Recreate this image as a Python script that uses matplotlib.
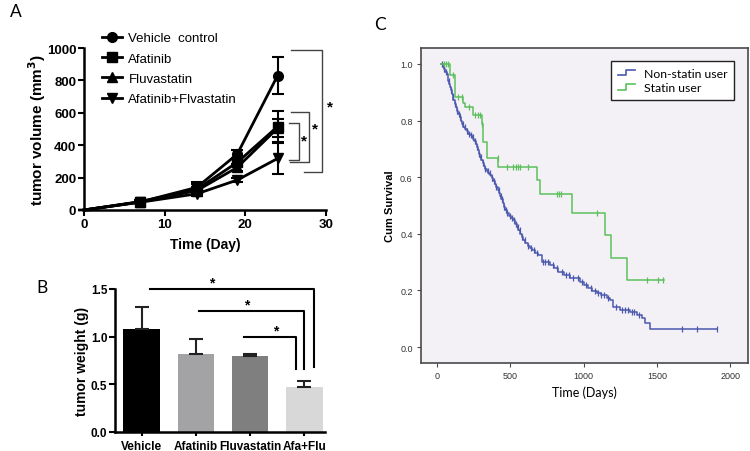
import numpy as np
import matplotlib
matplotlib.use("Agg")
import matplotlib.pyplot as plt
from matplotlib.lines import Line2D
from matplotlib.legend_handler import HandlerBase

# ---------------- Panel A data ----------------
days = [0, 7, 14, 19, 24]
vehicle_mean = [0, 50, 140, 345, 830]
vehicle_err = [0, 8, 35, 25, 112]
afatinib_mean = [0, 52, 128, 294, 515]
afatinib_err = [0, 8, 30, 25, 95]
fluva_mean = [0, 50, 120, 263, 505]
fluva_err = [0, 8, 25, 22, 55]
combo_mean = [0, 48, 100, 185, 318]
combo_err = [0, 6, 15, 15, 93]
a_series = ["Vehicle  control", "Afatinib", "Fluvastatin", "Afatinib+Flvastatin"]

# ---------------- Panel B data ----------------
b_groups = ["Vehicle", "Afatinib", "Fluvastatin", "Afa+Flu"]
b_weight = [1.08, 0.82, 0.80, 0.47]
b_err = [0.23, 0.16, 0.015, 0.07]
b_colors = ["#000000", "#a3a3a6", "#7f7f7f", "#d8d8d8"]

# ---------------- Panel C data ----------------
ns_time = [27, 40, 48, 57, 66, 72, 78, 84, 89, 95, 101, 107, 112, 120, 129, 138, 146,
           154, 163, 172, 180, 192, 203, 214, 226, 237, 248, 256, 263, 271, 279, 286,
           294, 303, 312, 320, 328, 340, 351, 362, 373, 385, 396, 405, 413, 422, 430,
           440, 450, 458, 467, 476, 490, 505, 521, 532, 546, 555, 567, 578, 589, 601,
           618, 635, 646, 669, 692, 715, 771, 800, 828, 868, 908, 976, 1005, 1033, 1060,
           1090, 1120, 1158, 1181, 1204, 1249, 1317, 1363, 1397, 1420, 1454, 1909]
ns_surv = [1.0, 0.99, 0.982, 0.973, 0.965, 0.952, 0.94, 0.929, 0.918, 0.906, 0.894, 0.882,
           0.871, 0.859, 0.847, 0.835, 0.824, 0.812, 0.80, 0.788, 0.777, 0.77, 0.762, 0.754,
           0.748, 0.742, 0.736, 0.726, 0.716, 0.707, 0.695, 0.683, 0.671, 0.66, 0.65, 0.64,
           0.630, 0.622, 0.614, 0.607, 0.597, 0.587, 0.577, 0.566, 0.556, 0.545, 0.535,
           0.522, 0.508, 0.496, 0.484, 0.472, 0.464, 0.456, 0.448, 0.436, 0.425, 0.413,
           0.401, 0.39, 0.378, 0.368, 0.358, 0.349, 0.343, 0.333, 0.325, 0.302, 0.290,
           0.278, 0.266, 0.254, 0.243, 0.231, 0.22, 0.208, 0.199, 0.190, 0.183, 0.175,
           0.165, 0.143, 0.131, 0.125, 0.114, 0.102, 0.085, 0.064, 0.064]
ns_censor = [35, 50, 62, 80, 95, 110, 125, 140, 150, 160, 175, 190, 205, 220, 230, 245,
             260, 275, 290, 300, 315, 330, 345, 360, 375, 390, 405, 420, 435, 445, 460,
             470, 480, 495, 510, 525, 540, 550, 565, 580, 600, 620, 640, 660, 680, 720,
             740, 760, 790, 820, 850, 880, 900, 930, 960, 990, 1020, 1050, 1080, 1100,
             1120, 1140, 1170, 1220, 1260, 1280, 1300, 1330, 1345, 1380, 1670, 1772, 1909]

st_time = [27, 89, 123, 180, 191, 243, 305, 317, 344, 419, 685, 703, 919, 1147, 1186, 1295, 1550]
st_surv = [1.0, 0.959, 0.883, 0.862, 0.847, 0.818, 0.786, 0.724, 0.669, 0.636, 0.589,
           0.540, 0.472, 0.395, 0.316, 0.237, 0.237]
st_censor = [45, 60, 77, 110, 146, 169, 216, 259, 282, 294, 310, 415, 476, 521, 537, 551,
             567, 623, 818, 830, 845, 1094, 1431, 1511, 1545]

c_labels = ["Non-statin user", "Statin user"]
c_colors = ["#4a58ad", "#5cc05c"]

# ---------------- Figure ----------------
plt.rcParams['font.family'] = ['Liberation Sans', 'DejaVu Sans']
fig = plt.figure(figsize=(7.5, 4.52), dpi=100)

def px_axes(l, t, r, b):
    W, H = 750, 452
    return fig.add_axes([l / W, 1 - b / H, (r - l) / W, (b - t) / H])

# ===== Panel A =====
axA = px_axes(84, 49, 326, 211)
markers = ['o', 's', '^', 'v']
means = [vehicle_mean, afatinib_mean, fluva_mean, combo_mean]
errs = [vehicle_err, afatinib_err, fluva_err, combo_err]
handles = []
for m, mu, er, lab in zip(markers, means, errs, a_series):
    axA.errorbar(days, mu, yerr=er, color='black', lw=2, capsize=4, capthick=1.5,
                 elinewidth=1.5, marker=m, markersize=7, markevery=[1, 2, 3, 4],
                 clip_on=False, zorder=3)
    handles.append(Line2D([], [], color='black', lw=2, marker=m, markersize=7, label=lab))
axA.set_xlim(0, 30)
axA.set_ylim(0, 1000)
axA.set_xticks([0, 10, 20, 30])
axA.set_yticks([0, 200, 400, 600, 800, 1000])
for s in ['top', 'right']:
    axA.spines[s].set_visible(False)
for s in ['left', 'bottom']:
    axA.spines[s].set_linewidth(1.8)
axA.tick_params(width=1.5, length=4, labelsize=9.5, pad=1.5)
for lab in axA.get_xticklabels() + axA.get_yticklabels():
    lab.set_fontweight('bold')
axA.set_ylabel("tumor volume (mm$^\\mathbf{3}$)", fontsize=11, fontweight='bold')
axA.yaxis.set_label_coords(-0.15, 0.5)
axA.set_xlabel("Time (Day)", fontsize=10, fontweight='bold', labelpad=5)
fig.legend(handles=handles, loc='upper left', bbox_to_anchor=(102 / 750, 1 - 33 / 452),
           frameon=False, fontsize=9.5, handlelength=1.5, handletextpad=0.5,
           labelspacing=0.62, borderpad=0, borderaxespad=0)

# significance brackets (panel A)
bc = '#444444'
brackets_A = [(25.66, 29.47, 990, 237, 27.31), (25.66, 27.93, 603, 298, 25.54),
              (25.45, 26.69, 535, 311, 25.45)]
for x0, xv, ytop, ybot, xb in brackets_A:
    axA.plot([x0, xv, xv, xb], [ytop, ytop, ybot, ybot], color=bc, lw=1, clip_on=False)
for xs, ys in [(30.5, 640), (28.64, 505), (27.27, 432)]:
    axA.text(xs, ys, '*', ha='center', va='center', fontsize=11, fontweight='bold', clip_on=False)

# ===== Panel B =====
axB = px_axes(115, 290, 325, 433)
xb = np.arange(len(b_groups))
axB.bar(xb, b_weight, width=0.67, color=b_colors, zorder=2)
axB.errorbar(xb, b_weight, yerr=[np.zeros(len(b_err)), b_err], fmt='none', ecolor='#222222',
             elinewidth=1.5, capsize=5, capthick=1.5, zorder=3)
axB.set_xlim(-0.49, 3.38)
axB.set_ylim(0, 1.5)
axB.set_yticks([0.0, 0.5, 1.0, 1.5])
axB.set_yticklabels(['0.0', '0.5', '1.0', '1.5'])
axB.set_xticks(xb)
axB.set_xticklabels(b_groups)
for s in ['top', 'right']:
    axB.spines[s].set_visible(False)
for s in ['left', 'bottom']:
    axB.spines[s].set_linewidth(1.8)
axB.tick_params(axis='y', width=1.5, length=4, labelsize=8.5, pad=1.5)
axB.tick_params(axis='x', width=1.5, length=3, labelsize=8.5, pad=3)
for lab in axB.get_xticklabels() + axB.get_yticklabels():
    lab.set_fontweight('bold')
axB.set_ylabel("tumor weight (g)", fontsize=10, fontweight='bold')
axB.yaxis.set_label_coords(-0.125, 0.5)
brackets_B = [(0.16, 3.17, 1.5, 0.68), (1.06, 3.0, 1.27, 0.66), (1.88, 2.85, 1.0, 0.66)]
for x0, x1, yl, yb in brackets_B:
    axB.plot([x0, x1, x1], [yl, yl, yb], color='black', lw=1.5, clip_on=False, zorder=4)
for xs, ys in [(1.30, 1.565), (1.93, 1.335), (2.47, 1.065)]:
    axB.text(xs, ys, '*', ha='center', va='center', fontsize=10, fontweight='bold', clip_on=False)

# ===== Panel C =====
axC = px_axes(421, 49, 748, 364)
axC.set_facecolor('#f4f1f6')
for t, s, cens, col, lab in [(ns_time, ns_surv, ns_censor, c_colors[0], c_labels[0]),
                             (st_time, st_surv, st_censor, c_colors[1], c_labels[1])]:
    t = np.asarray(t); s = np.asarray(s)
    axC.plot(t, s, drawstyle='steps-post', color=col, lw=1.1, label=lab)
    cens = np.asarray(cens)
    idx = np.searchsorted(t, cens, side='right') - 1
    axC.plot(cens, s[idx], linestyle='none', marker='|', markersize=5, mew=0.9, color=col)
axC.set_xlim(-109, 2122)
axC.set_ylim(-0.056, 1.056)
axC.set_xticks([0, 500, 1000, 1500, 2000])
axC.set_yticks([0.0, 0.2, 0.4, 0.6, 0.8, 1.0])
axC.set_yticklabels(['0.0', '0.2', '0.4', '0.6', '0.8', '1.0'])
for s in axC.spines.values():
    s.set_color('#4a4a4a')
    s.set_linewidth(1.2)
axC.tick_params(axis='both', length=3, width=0.8, color='#4a4a4a', labelsize=6.5,
                labelcolor='#333333', pad=3)
axC.set_ylabel("Cum Survival", fontsize=8, fontweight='bold')
axC.yaxis.set_label_coords(-0.08, 0.5)
axC.set_xlabel("Time (Days)", fontsize=9, fontfamily=['Lato', 'DejaVu Sans'], labelpad=4)


class StepHandler(HandlerBase):
    def create_artists(self, legend, orig_handle, xdescent, ydescent, width, height,
                       fontsize, trans):
        x0, y0 = -xdescent, -ydescent
        xs = [x0, x0 + width * 0.5, x0 + width * 0.5, x0 + width]
        ys = [y0 + height * 0.15, y0 + height * 0.15, y0 + height * 0.8, y0 + height * 0.8]
        ln = Line2D(xs, ys, color=orig_handle.get_color(), lw=1.2)
        ln.set_transform(trans)
        return [ln]


hC = [Line2D([], [], color=c) for c in c_colors]
legC = axC.legend(hC, c_labels, loc='upper right', bbox_to_anchor=(0.957, 0.959),
                  borderaxespad=0, handler_map={Line2D: StepHandler()}, fancybox=False,
                  framealpha=1, edgecolor='#222222', handlelength=1.4,
                  handletextpad=0.7, borderpad=0.55, labelspacing=0.3,
                  prop={'family': ['Lato', 'DejaVu Sans'], 'size': 8.8})
legC.get_frame().set_linewidth(1.0)

# panel letters
fig.text(10 / 750, 1 - 12 / 452, 'A', fontsize=12.5, ha='left', va='center',
         fontfamily=['Lato', 'DejaVu Sans'])
fig.text(36 / 750, 1 - 288 / 452, 'B', fontsize=12.5, ha='left', va='center',
         fontfamily=['Lato', 'DejaVu Sans'])
fig.text(374 / 750, 1 - 25 / 452, 'C', fontsize=12.5, ha='left', va='center',
         fontfamily=['Lato', 'DejaVu Sans'])

fig.savefig('out.png', dpi=100, facecolor='white')
